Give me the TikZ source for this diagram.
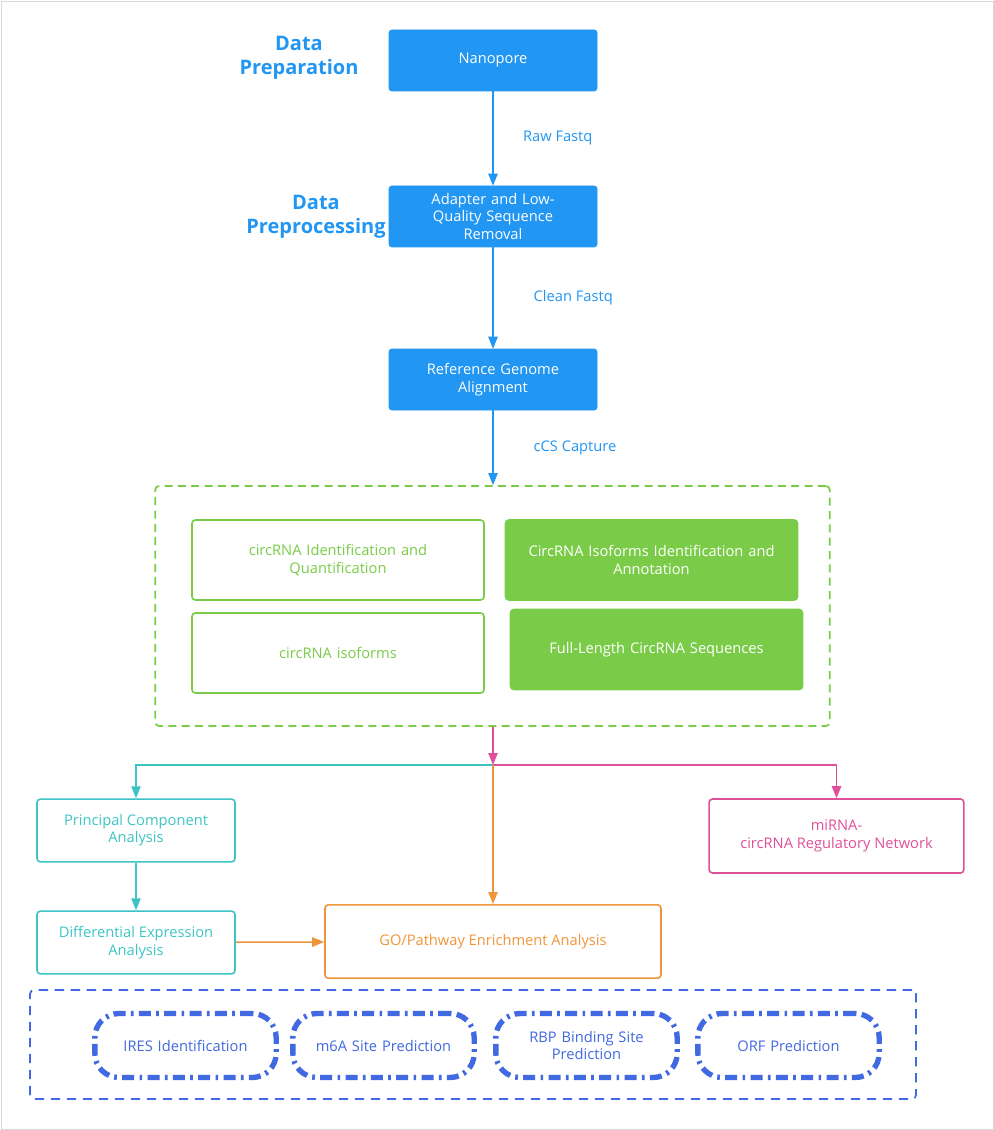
\documentclass[tikz,border=0pt]{standalone}
\usepackage{fontspec}
\setmainfont{Open Sans}
\usetikzlibrary{arrows.meta}
\definecolor{cblue}{HTML}{2196F3}
\definecolor{cgreen}{HTML}{7ACC48}
\definecolor{cteal}{HTML}{3EC4C6}
\definecolor{corange}{HTML}{F0963A}
\definecolor{cpink}{HTML}{E0509A}
\definecolor{croyal}{HTML}{4169E1}
\begin{document}
\begin{tikzpicture}[x=0.75pt,y=-0.75pt,
  every node/.style={font=\fontsize{11}{13}\selectfont,align=center,inner sep=0pt},
  bx/.style 2 args={draw=#1,rounded corners=2.5pt,line width=1.2pt,minimum width=#2*0.75pt},
  fbx/.style={fill=cblue,draw=cblue,text=white,rounded corners=2pt,minimum width=156pt,minimum height=45.75pt,text width=140pt},
  gbx/.style={draw=cgreen,text=cgreen,line width=1.2pt,rounded corners=2.5pt,minimum width=219pt,minimum height=60pt,text width=200pt},
  pill/.style={draw=croyal,text=croyal,line width=4pt,rounded corners=18pt,dash pattern=on 9pt off 4pt on 2pt off 4pt,minimum height=48pt,minimum width=136pt,text width=120pt},
  arr/.style={-{Triangle[length=9pt,width=7pt]},line width=1.1pt},
  lab/.style={text=cblue}]
\useasboundingbox (0,0) rectangle (994,1130);
\fill[white] (0,0) rectangle (994,1130);
\draw[gray!30,line width=0.5pt] (1,1) rectangle (993,1129);
% top
\node[fbx] (n1) at (493,60.5) {Nanopore};
\node[fbx] (n2) at (493,216.5) {Adapter and Low-\\Quality Sequence\\Removal};
\node[fbx] (n3) at (493,379.5) {Reference Genome\\Alignment};
\node[text=cblue,font=\bfseries\fontsize{15}{18}\selectfont] (t1) at (299,58) {Data\\Preparation};
\node[text=cblue,font=\bfseries\fontsize{15}{18}\selectfont] (t2) at (316,217) {Data\\Preprocessing};
\node[draw=cgreen,dash pattern=on 6pt off 4pt,line width=1.3pt,rounded corners=3pt,minimum width=506pt,minimum height=180pt] (g) at (492.5,606) {};
\draw[arr,cblue] (n1) -- node[lab,right=22pt] {Raw Fastq} (n2);
\draw[arr,cblue] (n2) -- node[lab,right=30pt] {Clean Fastq} (n3);
\draw[arr,cblue] (n3) -- node[lab,right=30pt] {cCS Capture} (g.north -| n3);
% green box
\node[gbx] (a) at (338,560) {circRNA Identification and\\Quantification};
\node[gbx,fill=cgreen,text=white] (b) at (651.5,560) {CircRNA Isoforms Identification and\\Annotation};
\node[gbx] (c) at (338,653) {circRNA isoforms};
\node[gbx,fill=cgreen,text=white] (d) at (656.5,649.5) {Full-Length CircRNA Sequences};
% lower
\node[draw=cteal,text=cteal,line width=1.2pt,rounded corners=2.5pt,minimum width=148.5pt,minimum height=47pt] (p) at (136,830.5) {Principal Component\\Analysis};
\node[draw=cteal,text=cteal,line width=1.2pt,rounded corners=2.5pt,minimum width=148.5pt,minimum height=47pt] (de) at (136,942.5) {Differential Expression\\Analysis};
\node[draw=cpink,text=cpink,line width=1.2pt,rounded corners=2.5pt,minimum width=191pt,minimum height=55.5pt] (mi) at (836.5,836) {miRNA-\\circRNA Regulatory Network};
\node[draw=corange,text=corange,line width=1.2pt,rounded corners=2.5pt,minimum width=252pt,minimum height=55pt] (go) at (493,941.5) {GO/Pathway Enrichment Analysis};
\coordinate (j) at (493,765);
\draw[line width=1.1pt,cteal,-{Triangle[length=9pt,width=7pt]}] (j) -| (p.north);
\draw[line width=1.1pt,cpink,-{Triangle[length=9pt,width=7pt]}] (j) -| (mi.north);
\draw[arr,cpink] (g.south -| j) -- (j);
\draw[arr,corange] (j) -- (go.north);
\draw[arr,cteal] (p) -- (de);
\draw[arr,corange] (de) -- (go);
% bottom
\node[draw=croyal,dash pattern=on 7pt off 5pt,line width=1.3pt,rounded corners=3pt,minimum width=664.5pt,minimum height=81.75pt] (bb) at (473,1044.5) {};
\node[pill] (q1) at (185.5,1045.5) {IRES Identification};
\node[pill] (q2) at (383.5,1045.5) {m6A Site Prediction};
\node[pill] (q3) at (586.5,1045.5) {RBP Binding Site\\Prediction};
\node[pill] (q4) at (788.5,1045.5) {ORF Prediction};
\end{tikzpicture}
\end{document}
